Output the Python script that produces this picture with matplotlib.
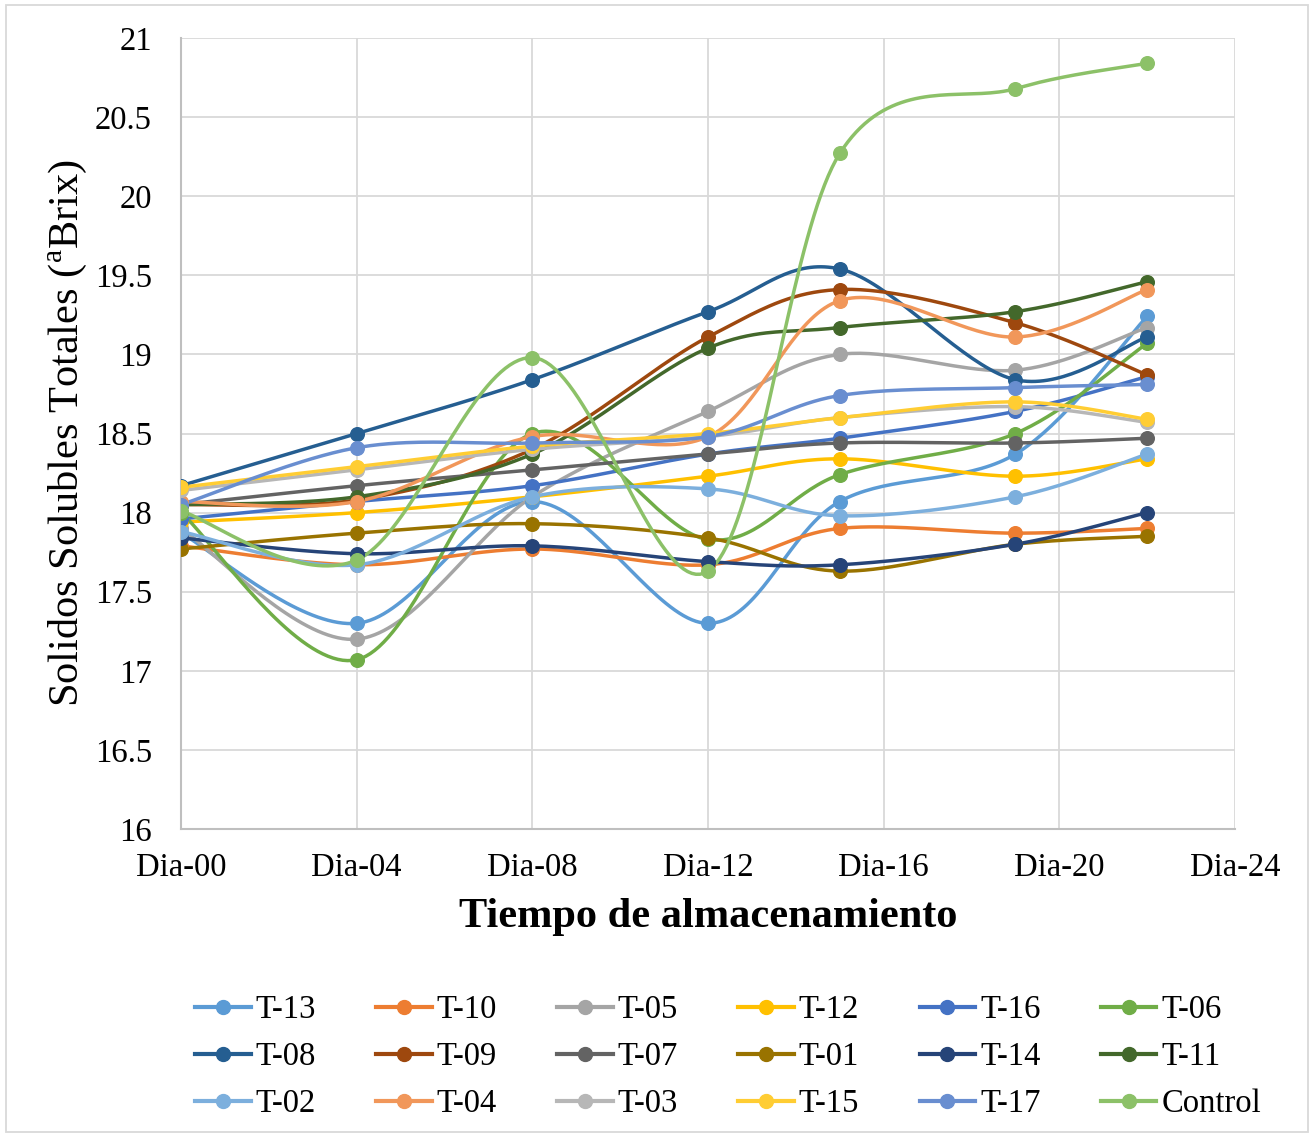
import numpy as np
import matplotlib.pyplot as plt
from matplotlib.lines import Line2D
from matplotlib.patches import Rectangle

plt.rcParams['font.family'] = ['Liberation Serif', 'DejaVu Serif']
plt.rcParams['mathtext.fontset'] = 'custom'
plt.rcParams['mathtext.rm'] = 'Liberation Serif'

# storage day of each sampling
days = [0, 4, 8, 12, 15, 19, 22]
tick_days = [0, 4, 8, 12, 16, 20, 24]
tick_labels = ['Dia-00', 'Dia-04', 'Dia-08', 'Dia-12', 'Dia-16', 'Dia-20', 'Dia-24']

# total soluble solids (°Brix) per treatment
t13 = [17.87, 17.30, 18.07, 17.30, 18.07, 18.37, 19.24]
t10 = [17.79, 17.67, 17.77, 17.67, 17.90, 17.87, 17.90]
t05 = [17.90, 17.20, 18.10, 18.64, 19.00, 18.90, 19.17]
t12 = [17.94, 18.00, 18.10, 18.23, 18.34, 18.23, 18.34]
t16 = [17.96, 18.07, 18.17, 18.37, 18.47, 18.64, 18.86]
t06 = [18.00, 17.07, 18.50, 17.83, 18.24, 18.50, 19.07]
t08 = [18.17, 18.50, 18.84, 19.27, 19.54, 18.84, 19.11]
t09 = [18.05, 18.08, 18.40, 19.11, 19.41, 19.20, 18.87]
t07 = [18.05, 18.17, 18.27, 18.37, 18.44, 18.44, 18.47]
t01 = [17.77, 17.87, 17.93, 17.84, 17.63, 17.80, 17.85]
t14 = [17.84, 17.74, 17.79, 17.69, 17.67, 17.80, 18.00]
t11 = [18.05, 18.10, 18.37, 19.04, 19.17, 19.27, 19.46]
t02 = [17.88, 17.67, 18.10, 18.15, 17.98, 18.10, 18.37]
t04 = [18.07, 18.07, 18.48, 18.48, 19.34, 19.11, 19.41]
t03 = [18.14, 18.27, 18.40, 18.48, 18.60, 18.67, 18.57]
t15 = [18.16, 18.29, 18.42, 18.50, 18.60, 18.70, 18.59]
t17 = [18.05, 18.41, 18.44, 18.48, 18.74, 18.79, 18.81]
control = [18.01, 17.70, 18.98, 17.63, 20.27, 20.68, 20.84]

names = ['T-13', 'T-10', 'T-05', 'T-12', 'T-16', 'T-06',
         'T-08', 'T-09', 'T-07', 'T-01', 'T-14', 'T-11',
         'T-02', 'T-04', 'T-03', 'T-15', 'T-17', 'Control']
series = [t13, t10, t05, t12, t16, t06,
          t08, t09, t07, t01, t14, t11,
          t02, t04, t03, t15, t17, control]
colors = ['#5B9BD5', '#ED7D31', '#A5A5A5', '#FFC000', '#4472C4', '#70AD47',
          '#255E91', '#9E480E', '#636363', '#997300', '#264478', '#43682B',
          '#7CAFDD', '#F1975A', '#B7B7B7', '#FFCD33', '#698ED0', '#8CC168']


def smooth(x, y, n=40):
    # piecewise cubic bezier through the points (spreadsheet-style smoothing)
    x = np.asarray(x, float)
    y = np.asarray(y, float)
    px = np.concatenate([[x[0]], x, [x[-1]]])
    py = np.concatenate([[y[0]], y, [y[-1]]])
    xs, ys = [], []
    t = np.linspace(0, 1, n)
    for i in range(len(x) - 1):
        p0 = np.array([px[i + 1], py[i + 1]])
        p3 = np.array([px[i + 2], py[i + 2]])
        c1 = p0 + (np.array([px[i + 2], py[i + 2]]) - np.array([px[i], py[i]])) / 6
        c2 = p3 - (np.array([px[i + 3], py[i + 3]]) - np.array([px[i + 1], py[i + 1]])) / 6
        b = ((1 - t) ** 3)[:, None] * p0 + (3 * (1 - t) ** 2 * t)[:, None] * c1 \
            + (3 * (1 - t) * t ** 2)[:, None] * c2 + (t ** 3)[:, None] * p3
        xs.append(b[:, 0])
        ys.append(b[:, 1])
    return np.concatenate(xs), np.concatenate(ys)


fig = plt.figure(figsize=(13.14, 11.37), dpi=100)
ax = fig.add_axes([181 / 1314, 1 - 829 / 1137, (1235 - 181) / 1314, (829 - 38) / 1137])

for vals, col in zip(series, colors):
    sx, sy = smooth(days, vals)
    ax.plot(sx, sy, color=col, lw=2.5, solid_capstyle='round', zorder=2)
    ax.plot(days, vals, 'o', color=col, ms=9.8, zorder=3)

ax.set_xlim(0, 24)
ax.set_ylim(16, 21)
ax.set_xticks(tick_days)
ax.set_xticklabels(tick_labels)
ax.set_yticks(np.arange(16, 21.01, 0.5))
ax.set_yticklabels(['16', '16.5', '17', '17.5', '18', '18.5', '19', '19.5', '20', '20.5', '21'])
ax.tick_params(axis='both', length=0, labelsize=23.5)
ax.tick_params(axis='y', pad=21)
ax.tick_params(axis='x', pad=17)
ax.grid(True, color='#D9D9D9', lw=1.3)
ax.set_axisbelow(True)
for s in ['top', 'right']:
    ax.spines[s].set_visible(False)
for s in ['left', 'bottom']:
    ax.spines[s].set_color('#BFBFBF')
    ax.spines[s].set_linewidth(1.5)

fig.text(68 / 1314, 1 - 433 / 1137, r'Solidos Solubles Totales ($^{\mathrm{a}}$Brix)',
         rotation=90, ha='center', va='center', fontsize=30.5)
fig.text(708 / 1314, 1 - 917 / 1137, 'Tiempo de almacenamiento',
         ha='center', va='center', fontsize=30.5, fontweight='bold')

# legend rows as in the series order, matplotlib fills column by column
handles = [Line2D([], [], color=c, lw=3, marker='o', ms=10) for c in colors]
order = [r * 6 + c for c in range(6) for r in range(3)]
fig.legend([handles[i] for i in order], [names[i] for i in order],
           ncol=6, loc='center', bbox_to_anchor=(728 / 1314, 1 - 1057 / 1137),
           frameon=False, fontsize=23.5, handlelength=1.7, handletextpad=0.15,
           columnspacing=1.85, labelspacing=0.5)

fig.patches.append(Rectangle((6 / 1314, 5 / 1137), 1302 / 1314, 1127 / 1137,
                             transform=fig.transFigure, fill=False,
                             edgecolor='#D9D9D9', lw=1.3))

fig.savefig('out.png', dpi=100)
